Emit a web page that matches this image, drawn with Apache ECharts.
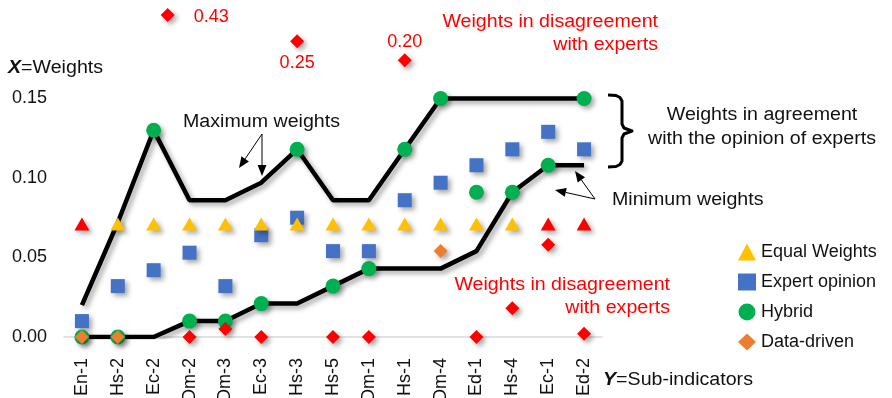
<!DOCTYPE html>
<html>
<head>
<meta charset="utf-8">
<script src="https://cdn.jsdelivr.net/npm/echarts@6/dist/echarts.min.js"></script>
<style>html,body{margin:0;padding:0;background:#fff}#echarts{width:892px;height:398px}</style>
</head>
<body>
<div id="echarts"></div>
<script>
// data
var categories = ['En-1','Hs-2','Ec-2','Dm-2','Dm-3','Ec-3','Hs-3','Hs-5','Dm-1','Hs-1','Dm-4','Ed-1','Hs-4','Ec-1','Ed-2'];
var maxWeights = [0.020, 0.072, 0.130, 0.086, 0.086, 0.097, 0.118, 0.086, 0.086, 0.118, 0.150, 0.150, 0.150, 0.150, 0.150];
var minWeights = [0.000, 0.000, 0.000, 0.010, 0.010, 0.021, 0.021, 0.032, 0.043, 0.043, 0.043, 0.054, 0.091, 0.108, 0.108];
var equalWeights = [0.071, 0.071, 0.071, 0.071, 0.071, 0.071, 0.071, 0.071, 0.071, 0.071, 0.071, 0.071, 0.071, 0.071, 0.071];
var equalDisagree = [1,0,0,0,0,0,0,0,0,0,0,0,0,1,1];
var expertOpinion = [0.010, 0.032, 0.042, 0.053, 0.032, 0.064, 0.075, 0.054, 0.054, 0.086, 0.097, 0.108, 0.118, 0.129, 0.118];
var hybrid = [0.000, 0.000, 0.130, 0.010, 0.010, 0.021, 0.118, 0.032, 0.043, 0.118, 0.150, 0.091, 0.091, 0.108, 0.150];
var dataDriven = [0.000, 0.000, 0.43, 0.000, 0.005, 0.000, 0.25, 0.000, 0.000, 0.20, 0.054, 0.000, 0.018, 0.058, 0.002];
var dataDrivenDisagree = [0,0,1,1,1,1,1,1,1,1,0,1,1,1,1];
// off-scale values are drawn above the axis at these heights
var offScaleAt = [null,null,0.2025,null,null,null,0.186,null,null,0.174,null,null,null,null,null];
var yTicks = [0, 0.05, 0.10, 0.15];

var RED = '#FF0000';
var FONT = 'Liberation Sans, Arial, sans-serif';
var shadow = { shadowBlur: 5, shadowOffsetX: 3, shadowOffsetY: 3, shadowColor: 'rgba(0,0,0,0.35)' };

var offLabel = {
    2: { position: 'right', distance: 19, offset: [0, 2] },
    6: { position: 'bottom', distance: 6 },
    9: { position: 'top', distance: 2 }
};

var eqData = equalWeights.map(function (v, i) {
    return equalDisagree[i] ? { value: v, itemStyle: { color: RED } } : v;
});
var ddData = dataDriven.map(function (v, i) {
    var item = { value: offScaleAt[i] != null ? offScaleAt[i] : v };
    if (dataDrivenDisagree[i]) item.itemStyle = { color: RED };
    if (offScaleAt[i] != null) {
        item.label = Object.assign({ show: true, formatter: v.toFixed(2), color: RED, fontSize: 18, fontFamily: FONT }, offLabel[i]);
        if (i === 2) item.symbolOffset = [14, 0];
    }
    return item;
});

function arrow(x1, y1, x2, y2) {
    var a = Math.atan2(y2 - y1, x2 - x1), L = 11, W = 4.5;
    var bx = x2 - L * Math.cos(a), by = y2 - L * Math.sin(a);
    return [
        { type: 'line', shape: { x1: x1, y1: y1, x2: bx, y2: by }, style: { stroke: '#000', lineWidth: 1 } },
        { type: 'polygon', shape: { points: [[x2, y2], [bx + W * Math.sin(a), by - W * Math.cos(a)], [bx - W * Math.sin(a), by + W * Math.cos(a)]] }, style: { fill: '#000' } }
    ];
}
function txt(x, y, s, color, align) {
    return { type: 'text', x: x, y: y, scaleX: 1.09, style: { text: s, fill: color || '#111', fontSize: 18, fontFamily: FONT, align: align || 'left', verticalAlign: 'middle' } };
}

var graphics = [
    txt(183, 122, 'Maximum weights'),
    txt(612, 200, 'Minimum weights'),
    txt(762, 115, 'Weights in agreement', '#111', 'center'),
    txt(762, 139, 'with the opinion of experts', '#111', 'center'),
    txt(658, 22, 'Weights in disagreement', RED, 'right'),
    txt(658, 45, 'with experts', RED, 'right'),
    txt(670, 285, 'Weights in disagreement', RED, 'right'),
    txt(670, 308, 'with experts', RED, 'right'),
    { type: 'text', x: 8, y: 68, scaleX: 1.09, style: { text: '{b|X}=Weights', fill: '#111', fontSize: 18, fontFamily: FONT, verticalAlign: 'middle', rich: { b: { fontWeight: 'bold', fontStyle: 'italic', fontSize: 18, fontFamily: FONT, fill: '#111' } } } },
    { type: 'text', x: 603, y: 380, scaleX: 1.09, style: { text: '{b|Y}=Sub-indicators', fill: '#111', fontSize: 18, fontFamily: FONT, verticalAlign: 'middle', rich: { b: { fontWeight: 'bold', fontStyle: 'italic', fontSize: 18, fontFamily: FONT, fill: '#111' } } } },
    { type: 'polyline', shape: { points: [[608,95],[616,95.5],[620,97.5],[622,101],[622,124],[624,128],[632,131],[624,134],[622,138],[622,161],[620,164.5],[616,166.5],[608,167]] },
      style: { stroke: '#000', lineWidth: 3, fill: null, lineJoin: 'round' } }
].concat(arrow(262, 134, 239, 168), arrow(262, 134, 262, 176), arrow(595, 199, 575, 171), arrow(595, 199, 555, 190));

var myChart = echarts.init(document.getElementById('echarts'));
option = {
    animation: false,
    grid: { left: 64, right: 290, top: 3, bottom: 61, containLabel: false, outerBoundsMode: 'none' },
    legend: {
        data: ['Equal Weights', 'Expert opinion', 'Hybrid', 'Data-driven'],
        orient: 'vertical',
        left: 733,
        top: 238,
        itemWidth: 18,
        itemHeight: 17,
        itemGap: 12,
        textStyle: { fontSize: 18, fontFamily: FONT, color: '#111' }
    },
    xAxis: {
        type: 'category',
        data: categories,
        axisLine: { show: true, lineStyle: { color: '#d9d9d9', width: 1.5 } },
        axisTick: { show: false },
        axisLabel: { rotate: 90, margin: 21, fontSize: 18, fontFamily: FONT, color: '#111', interval: 0 },
        splitLine: { show: false }
    },
    yAxis: {
        type: 'value',
        min: 0,
        max: 0.21,
        interval: 0.05,
        axisLine: { show: false },
        axisTick: { show: false },
        splitLine: { show: false },
        axisLabel: {
            margin: 17, fontSize: 18, fontFamily: FONT, color: '#111',
            formatter: function (v) {
                for (var i = 0; i < yTicks.length; i++) if (Math.abs(yTicks[i] - v) < 1e-6) return v.toFixed(2);
                return '';
            }
        }
    },
    graphic: graphics,
    series: [
        { name: 'max', type: 'line', data: maxWeights, symbol: 'none', z: 1,
          lineStyle: Object.assign({ color: '#000', width: 4.5 }, shadow) },
        { name: 'min', type: 'line', data: minWeights, symbol: 'none', z: 1,
          lineStyle: Object.assign({ color: '#000', width: 4.5 }, shadow) },
        { name: 'Expert opinion', type: 'scatter', data: expertOpinion, symbol: 'rect', symbolSize: 14, z: 3,
          itemStyle: Object.assign({ color: '#4472C4', opacity: 1 }, shadow) },
        { name: 'Equal Weights', type: 'scatter', data: eqData, symbol: 'triangle', symbolSize: [15, 13], z: 3,
          itemStyle: Object.assign({ color: '#FFC000', opacity: 1 }, shadow) },
        { name: 'Hybrid', type: 'scatter', data: hybrid, symbol: 'circle', symbolSize: 15, z: 4,
          itemStyle: Object.assign({ color: '#00B050', opacity: 1 }, shadow) },
        { name: 'Data-driven', type: 'scatter', data: ddData, symbol: 'diamond', symbolSize: 14, z: 5,
          itemStyle: Object.assign({ color: '#ED7D31', opacity: 1 }, shadow) }
    ]
};
myChart.setOption(option);
</script>
</body>
</html>
